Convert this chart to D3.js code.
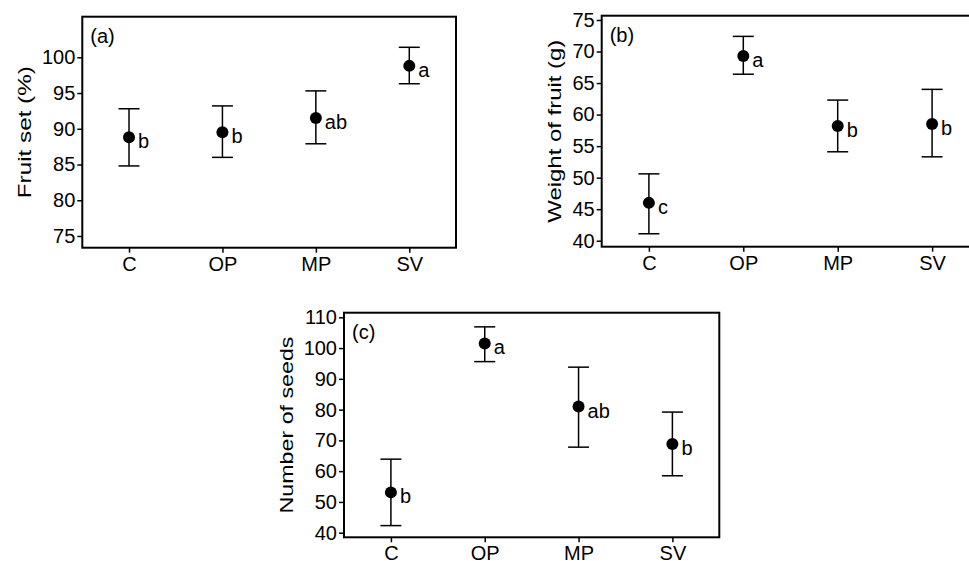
<!DOCTYPE html>
<html>
<head>
<meta charset="utf-8">
<script src="https://cdn.jsdelivr.net/npm/d3@7"></script>
<style>
  body { margin: 0; background: #fff; }
  svg { font-family: Arial, "Liberation Sans", sans-serif; }
  .axis path { display: none; }
  .axis line { stroke: #000; stroke-width: 1.5; }
  .axis text { font-size: 20px; fill: #000; }
</style>
</head>
<body>
<svg id="chart" width="969" height="561"></svg>
<script>
// treatments on the x axis
const treatments = ['C', 'OP', 'MP', 'SV'];

// (a) fruit set (%)
const fruitSetMean = [88.8, 89.5, 91.5, 98.8];
const fruitSetLow = [84.8, 86.0, 87.9, 96.3];
const fruitSetHigh = [92.8, 93.2, 95.3, 101.4];
const fruitSetLetters = ['b', 'b', 'ab', 'a'];
const fruitSetTicks = [75, 80, 85, 90, 95, 100];

// (b) weight of fruit (g)
const weightMean = [46.0, 69.3, 58.2, 58.5];
const weightLow = [41.1, 66.4, 54.1, 53.3];
const weightHigh = [50.6, 72.4, 62.3, 64.0];
const weightLetters = ['c', 'a', 'b', 'b'];
const weightTicks = [40, 45, 50, 55, 60, 65, 70, 75];

// (c) number of seeds
const seedMean = [53.1, 101.5, 81.0, 68.8];
const seedLow = [42.3, 95.6, 67.8, 58.5];
const seedHigh = [63.9, 106.9, 93.8, 79.2];
const seedLetters = ['b', 'a', 'ab', 'b'];
const seedTicks = [40, 50, 60, 70, 80, 90, 100, 110];

const svg = d3.select('#chart');

function drawPanel(cfg) {
  const data = treatments.map((t, i) => ({
    group: t, mean: cfg.mean[i], low: cfg.low[i], high: cfg.high[i], letter: cfg.letters[i]
  }));

  const g = svg.append('g')
      .attr('transform', `translate(${cfg.left},${cfg.top})`);

  const xScale = d3.scalePoint()
      .domain(treatments)
      .range([0, cfg.width])
      .padding(0.5);

  const yScale = d3.scaleLinear()
      .domain(cfg.yDomain)
      .range([cfg.height, 0]);

  // axes
  g.append('g')
      .attr('class', 'axis x-axis')
      .attr('transform', `translate(0,${cfg.height})`)
      .call(d3.axisBottom(xScale).tickSize(5).tickPadding(4));

  g.append('g')
      .attr('class', 'axis y-axis')
      .call(d3.axisLeft(yScale).tickValues(cfg.ticks).tickSize(5).tickPadding(2));

  // frame
  g.append('rect')
      .attr('width', cfg.width)
      .attr('height', cfg.height)
      .attr('fill', 'none')
      .attr('stroke', '#000')
      .attr('stroke-width', 2);

  // error bars
  const bars = g.selectAll('.err')
      .data(data)
    .join('g')
      .attr('class', 'err')
      .attr('transform', d => `translate(${xScale(d.group)},0)`);

  bars.append('line')
      .attr('y1', d => yScale(d.low))
      .attr('y2', d => yScale(d.high))
      .attr('stroke', '#000').attr('stroke-width', 1.5);

  bars.selectAll('.cap')
      .data(d => [d.low, d.high])
    .join('line')
      .attr('class', 'cap')
      .attr('x1', -10.5).attr('x2', 10.5)
      .attr('y1', v => yScale(v)).attr('y2', v => yScale(v))
      .attr('stroke', '#000').attr('stroke-width', 1.5);

  bars.append('circle')
      .attr('cy', d => yScale(d.mean))
      .attr('r', 6)
      .attr('fill', '#000');

  bars.append('text')
      .attr('x', 9)
      .attr('y', d => yScale(d.mean) + 11)
      .style('font-size', '20px')
      .text(d => d.letter);

  // panel tag
  g.append('text')
      .attr('x', 8)
      .attr('y', 26)
      .style('font-size', '20px')
      .text(cfg.tag);

  // y axis title
  g.append('text')
      .attr('transform', `translate(${cfg.titleX},${cfg.height / 2}) rotate(-90)`)
      .attr('text-anchor', 'middle')
      .attr('textLength', cfg.titleLength)
      .attr('lengthAdjust', 'spacingAndGlyphs')
      .style('font-size', '19px')
      .text(cfg.title);
}

drawPanel({
  left: 82.3, top: 16.7, width: 373.7, height: 231,
  yDomain: [73.36, 105.68], ticks: fruitSetTicks,
  mean: fruitSetMean, low: fruitSetLow, high: fruitSetHigh, letters: fruitSetLetters,
  tag: '(a)', title: 'Fruit set (%)', titleX: -51.3, titleLength: 132
});

drawPanel({
  left: 601.7, top: 15.7, width: 377.6, height: 231,
  yDomain: [39.05, 75.68], ticks: weightTicks,
  mean: weightMean, low: weightLow, high: weightHigh, letters: weightLetters,
  tag: '(b)', title: 'Weight of fruit (g)', titleX: -40.7, titleLength: 183
});

drawPanel({
  left: 344, top: 312.7, width: 375.3, height: 224.6,
  yDomain: [38.5, 111.5], ticks: seedTicks,
  mean: seedMean, low: seedLow, high: seedHigh, letters: seedLetters,
  tag: '(c)', title: 'Number of seeds', titleX: -50.7, titleLength: 177
});
</script>
</body>
</html>
